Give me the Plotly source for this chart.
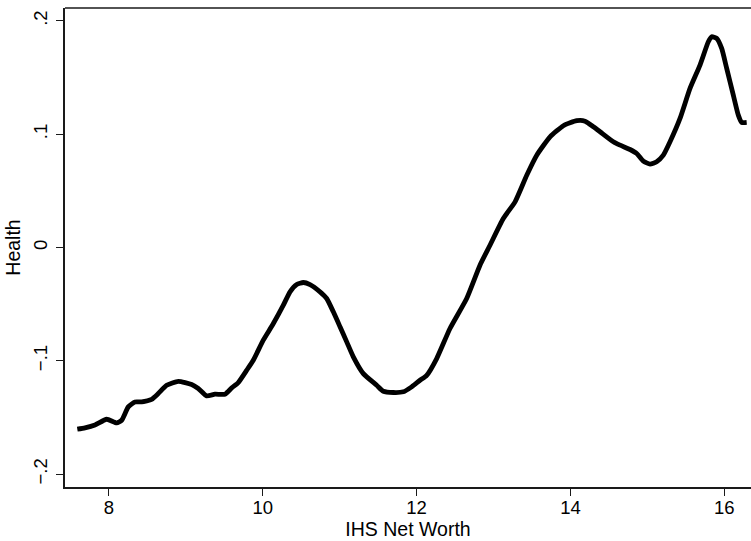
import plotly.graph_objects as go

# Smoothed health profile against IHS-transformed net worth
net_worth = [7.588, 7.688, 7.818, 7.970, 8.100, 8.165, 8.251, 8.338, 8.425, 8.555,
             8.641, 8.750, 8.901, 9.075, 9.161, 9.270, 9.378, 9.508, 9.596, 9.681,
             9.791, 9.876, 10.006, 10.137, 10.267, 10.354, 10.441, 10.527, 10.614, 10.744,
             10.831, 10.917, 11.004, 11.091, 11.177, 11.307, 11.481, 11.567, 11.697, 11.827,
             11.936, 12.044, 12.131, 12.261, 12.434, 12.651, 12.824, 12.954, 13.127, 13.280,
             13.432, 13.562, 13.735, 13.908, 14.082, 14.190, 14.298, 14.385, 14.558, 14.645,
             14.775, 14.862, 14.948, 15.035, 15.122, 15.208, 15.295, 15.425, 15.555, 15.685,
             15.793, 15.837, 15.902, 15.967, 16.032, 16.118, 16.183, 16.227, 16.292]
health = [-0.1604, -0.1592, -0.1567, -0.1516, -0.1548, -0.1525, -0.1407, -0.1363, -0.1363, -0.1340,
          -0.1289, -0.1216, -0.1181, -0.1210, -0.1245, -0.1310, -0.1295, -0.1295, -0.1239, -0.1192,
          -0.1083, -0.0995, -0.0818, -0.0671, -0.0509, -0.0391, -0.0327, -0.0309, -0.0327, -0.0391,
          -0.0450, -0.0568, -0.0700, -0.0833, -0.0965, -0.1113, -0.1216, -0.1269, -0.1280, -0.1274,
          -0.1230, -0.1172, -0.1128, -0.0980, -0.0715, -0.0450, -0.0156, 0.0020, 0.0256, 0.0403,
          0.0638, 0.0815, 0.0977, 0.1075, 0.1119, 0.1115, 0.1066, 0.1022, 0.0933, 0.0903,
          0.0865, 0.0830, 0.0762, 0.0736, 0.0757, 0.0815, 0.0933, 0.1139, 0.1404, 0.1610,
          0.1816, 0.1860, 0.1846, 0.1757, 0.1581, 0.1345, 0.1168, 0.1104, 0.1104]

x_ticks = [8, 10, 12, 14, 16]
y_ticks = [-0.2, -0.1, 0.0, 0.1, 0.2]
y_tick_text = ["\u2212.2", "\u2212.1", "0", ".1", ".2"]

FONT = "Liberation Sans, Arial, Helvetica, sans-serif"
AXIS = "#1a1a1a"

fig = go.Figure(
    go.Scatter(
        x=net_worth, y=health, mode="lines",
        line=dict(color="black", width=4.8, shape="spline", smoothing=0.5),
        hoverinfo="skip",
    )
)

fig.update_layout(
    width=751, height=541,
    margin=dict(l=65, r=0, t=8, b=54),
    paper_bgcolor="white", plot_bgcolor="white",
    showlegend=False,
    font=dict(family=FONT, color="black", size=18.5),
    shapes=[dict(type="line", xref="paper", yref="paper", x0=0, x1=1, y0=1, y1=1,
                 line=dict(color=AXIS, width=1.7))],
)

fig.update_xaxes(
    range=[7.428, 16.348],
    tickvals=x_ticks, ticktext=[str(v) for v in x_ticks],
    ticks="outside", ticklen=7, tickwidth=1, tickcolor=AXIS,
    showline=True, linecolor=AXIS, linewidth=2,
    showgrid=False, zeroline=False,
    tickfont=dict(size=18.5), ticklabelstandoff=-4,
    title=dict(text="IHS Net Worth", font=dict(size=19.5), standoff=2),
)

fig.update_yaxes(
    range=[-0.2114, 0.2114],
    tickvals=y_ticks, ticktext=y_tick_text, tickangle=-90,
    ticks="outside", ticklen=7, tickwidth=1, tickcolor=AXIS,
    showline=True, linecolor=AXIS, linewidth=2,
    showgrid=False, zeroline=False,
    tickfont=dict(size=18.5), ticklabelstandoff=2,
    title=dict(text="Health", font=dict(size=19.5), standoff=4),
)

fig.write_html("out.html")
